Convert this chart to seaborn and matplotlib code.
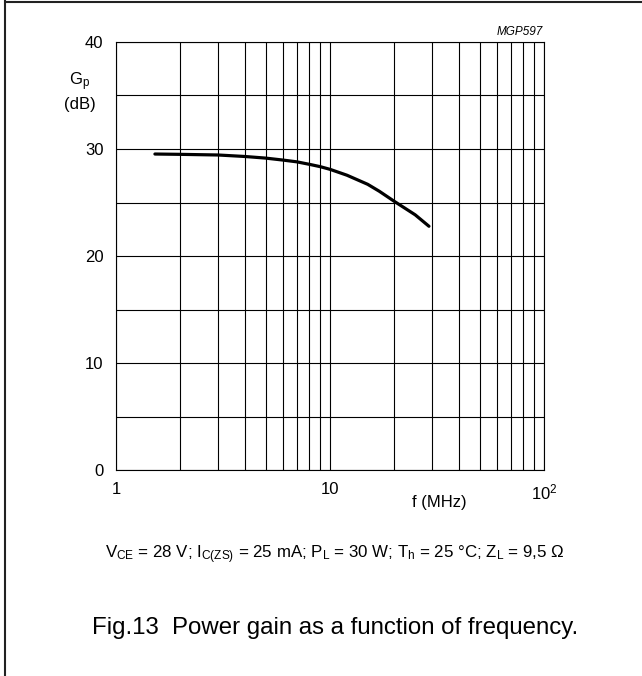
import numpy as np
import pandas as pd
import seaborn as sns
import matplotlib.pyplot as plt
from matplotlib.lines import Line2D
from matplotlib.ticker import FixedLocator, NullFormatter

sns.set_theme(style="white")
plt.rcParams["font.family"] = ["Liberation Sans", "DejaVu Sans"]
plt.rcParams["text.color"] = "black"
plt.rcParams["mathtext.fontset"] = "custom"
plt.rcParams["mathtext.rm"] = "Liberation Sans"
plt.rcParams["mathtext.it"] = "Liberation Sans:italic"

# power gain curve
freq_mhz = [1.52, 2, 3, 4, 5, 6, 7, 8, 9, 10, 12, 15, 17, 20, 25, 29]
gain_db = [29.53, 29.5, 29.44, 29.3, 29.15, 28.97, 28.8, 28.57, 28.35, 28.1,
           27.55, 26.7, 26.05, 25.1, 23.85, 22.78]

x_major = [1, 10, 100]
x_labels = ["1", "10", "$10^2$"]
x_minor = [2, 3, 4, 5, 6, 7, 8, 9, 20, 30, 40, 50, 60, 70, 80, 90]
y_major = [0, 10, 20, 30, 40]
y_minor = [5, 15, 25, 35]

df = pd.DataFrame({"f": freq_mhz, "Gp": gain_db})

fig = plt.figure(figsize=(6.42, 6.76), dpi=100)
ax = fig.add_axes([116 / 642, 1 - 470 / 676, (544 - 116) / 642, (470 - 42) / 676])

sns.lineplot(data=df, x="f", y="Gp", ax=ax, color="black", linewidth=2.3)

ax.set_xscale("log")
ax.set_xlim(1, 100)
ax.set_ylim(0, 40)
ax.xaxis.set_major_locator(FixedLocator(x_major))
ax.set_xticklabels(x_labels)
ax.xaxis.set_minor_locator(FixedLocator(x_minor))
ax.xaxis.set_minor_formatter(NullFormatter())
ax.set_yticks(y_major)
ax.yaxis.set_minor_locator(FixedLocator(y_minor))
ax.grid(True, which="both", color="black", linewidth=0.8)
ax.tick_params(which="both", length=0, labelsize=12, colors="black", pad=9)
for s in ax.spines.values():
    s.set_color("black")
    s.set_linewidth(0.8)
ax.set_xlabel("")
ax.set_ylabel("")

ax.text(0.755, -0.075, "f (MHz)", transform=ax.transAxes, ha="center", va="center", fontsize=12)
fig.text(80 / 642, 1 - 82 / 676, "G$_{\\rm p}$", ha="center", va="center", fontsize=12)
fig.text(80 / 642, 1 - 105 / 676, "(dB)", ha="center", va="center", fontsize=12)
fig.text(543 / 642, 1 - 32 / 676, "MGP597", ha="right", va="center", fontsize=8.5, style="italic")

fig.text(105 / 642, 1 - 555 / 676,
         "V$_{\\rm CE}$ = 28 V; I$_{\\rm C(ZS)}$ = 25 mA; P$_{\\rm L}$ = 30 W; "
         "T$_{\\rm h}$ = 25 °C; Z$_{\\rm L}$ = 9,5 Ω",
         ha="left", va="center", fontsize=12.2)
fig.text(335 / 642, 1 - 628 / 676, "Fig.13  Power gain as a function of frequency.",
         ha="center", va="center", fontsize=17.3)

# frame around the figure (top and left edges)
fig.add_artist(Line2D([5 / 642, 1], [1 - 1.5 / 676, 1 - 1.5 / 676], color="#222222", linewidth=1.5))
fig.add_artist(Line2D([5.5 / 642, 5.5 / 642], [0, 1], color="#222222", linewidth=1.5))

fig.savefig("out.png", dpi=100)
